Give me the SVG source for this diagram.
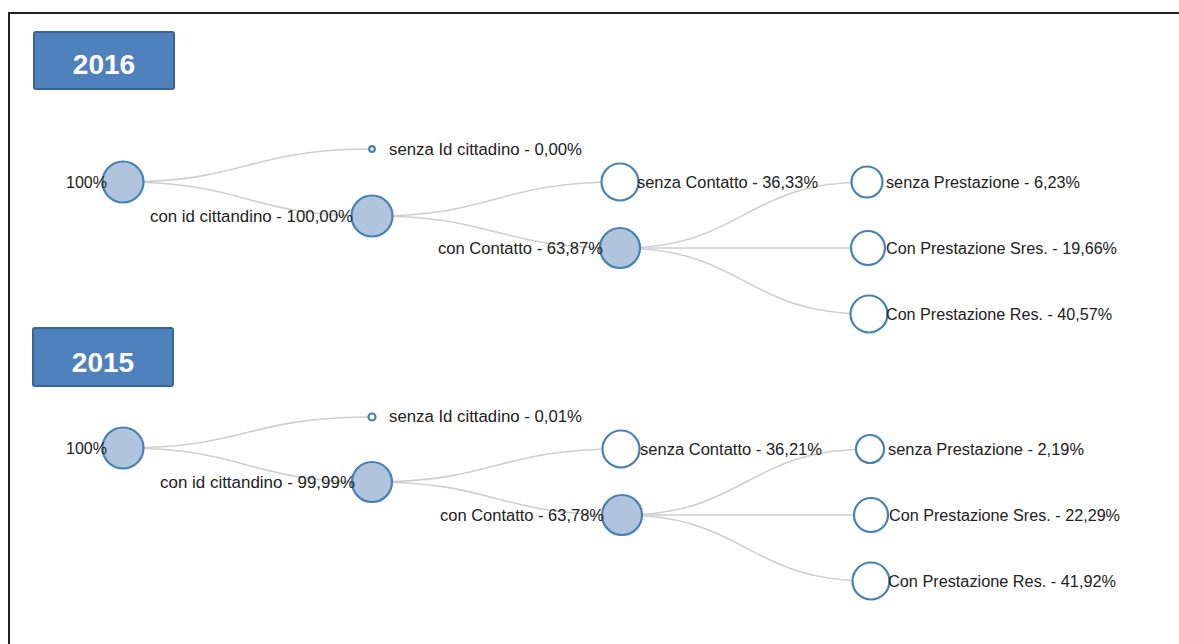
<svg xmlns="http://www.w3.org/2000/svg" width="1179" height="644" viewBox="0 0 1179 644">
<style>
.link{fill:none;stroke:#cfcfcf;stroke-width:1.6}
.nf{fill:#b0c4de;stroke:#4682b4;stroke-width:2.2}
.ne{fill:#ffffff;stroke:#4682b4;stroke-width:2.2}
.lbl{font-family:"Liberation Sans",Arial,sans-serif;font-size:16px;fill:#222}
.yr{fill:#4f81bd;stroke:#3a6491;stroke-width:2}
.yt{font-family:"Liberation Sans",Arial,sans-serif;font-size:28px;font-weight:bold;fill:#fff;text-anchor:middle}
</style>
<rect width="1179" height="644" fill="#fff"/>
<path d="M9 644V13H1179" fill="none" stroke="#222" stroke-width="2"/>
<g id="year2016"><rect class="yr" x="34" y="32" width="140" height="57" rx="2"/><text class="yt" x="104" y="74">2016</text></g>
<g id="year2015"><rect class="yr" x="33" y="328" width="140" height="58" rx="2"/><text class="yt" x="103" y="372">2015</text></g>
<g id="connectors">
<path class="link" d="M123 182C247 182 247 149 372 149"/>
<path class="link" d="M123 182C247 182 247 216 372 216"/>
<path class="link" d="M372 216C496 216 496 182 620 182"/>
<path class="link" d="M372 216C496 216 496 248 620 248"/>
<path class="link" d="M620 248C744 248 744 182 867 182"/>
<path class="link" d="M620 248C744 248 744 248 868 248"/>
<path class="link" d="M620 248C744 248 744 314 869 314"/>
<path class="link" d="M123 448C247 448 247 417 372 417"/>
<path class="link" d="M123 448C247 448 247 482 372 482"/>
<path class="link" d="M372 482C496 482 496 449 621 449"/>
<path class="link" d="M372 482C496 482 496 515 622 515"/>
<path class="link" d="M622 515C746 515 746 449 870 449"/>
<path class="link" d="M622 515C746 515 746 515 871 515"/>
<path class="link" d="M622 515C746 515 746 581 871 581"/>
</g>
<g id="n2016-root"><circle class="nf" cx="123" cy="182" r="20.5"/><text class="lbl" x="66" y="188" textLength="41" lengthAdjust="spacingAndGlyphs">100%</text></g>
<g id="n2016-senzaId"><circle class="ne" cx="372" cy="149" r="2.8"/><text class="lbl" x="389" y="155" textLength="193" lengthAdjust="spacingAndGlyphs">senza Id cittadino - 0,00%</text></g>
<g id="n2016-conId"><circle class="nf" cx="372" cy="216" r="20.5"/><text class="lbl" x="150" y="222" textLength="203" lengthAdjust="spacingAndGlyphs">con id cittandino - 100,00%</text></g>
<g id="n2016-senzaContatto"><circle class="ne" cx="620" cy="182" r="18.5"/><text class="lbl" x="637" y="188" textLength="181" lengthAdjust="spacingAndGlyphs">senza Contatto - 36,33%</text></g>
<g id="n2016-conContatto"><circle class="nf" cx="620" cy="248" r="20"/><text class="lbl" x="438" y="254" textLength="165" lengthAdjust="spacingAndGlyphs">con Contatto - 63,87%</text></g>
<g id="n2016-senzaPrest"><circle class="ne" cx="867" cy="182" r="15.5"/><text class="lbl" x="886" y="188" textLength="194" lengthAdjust="spacingAndGlyphs">senza Prestazione - 6,23%</text></g>
<g id="n2016-sres"><circle class="ne" cx="868" cy="248" r="17"/><text class="lbl" x="886" y="254" textLength="231" lengthAdjust="spacingAndGlyphs">Con Prestazione Sres. - 19,66%</text></g>
<g id="n2016-res"><circle class="ne" cx="869" cy="314" r="18.5"/><text class="lbl" x="886" y="320" textLength="226" lengthAdjust="spacingAndGlyphs">Con Prestazione Res. - 40,57%</text></g>
<g id="n2015-root"><circle class="nf" cx="123" cy="448" r="20.5"/><text class="lbl" x="66" y="454" textLength="41" lengthAdjust="spacingAndGlyphs">100%</text></g>
<g id="n2015-senzaId"><circle class="ne" cx="372" cy="417" r="3.5"/><text class="lbl" x="389" y="422" textLength="193" lengthAdjust="spacingAndGlyphs">senza Id cittadino - 0,01%</text></g>
<g id="n2015-conId"><circle class="nf" cx="372" cy="482" r="20"/><text class="lbl" x="160" y="488" textLength="195" lengthAdjust="spacingAndGlyphs">con id cittandino - 99,99%</text></g>
<g id="n2015-senzaContatto"><circle class="ne" cx="621" cy="449" r="18.5"/><text class="lbl" x="640" y="455" textLength="182" lengthAdjust="spacingAndGlyphs">senza Contatto - 36,21%</text></g>
<g id="n2015-conContatto"><circle class="nf" cx="622" cy="515" r="20"/><text class="lbl" x="440" y="521" textLength="164" lengthAdjust="spacingAndGlyphs">con Contatto - 63,78%</text></g>
<g id="n2015-senzaPrest"><circle class="ne" cx="870" cy="449" r="14"/><text class="lbl" x="888" y="455" textLength="196" lengthAdjust="spacingAndGlyphs">senza Prestazione - 2,19%</text></g>
<g id="n2015-sres"><circle class="ne" cx="871" cy="515" r="17"/><text class="lbl" x="889" y="521" textLength="231" lengthAdjust="spacingAndGlyphs">Con Prestazione Sres. - 22,29%</text></g>
<g id="n2015-res"><circle class="ne" cx="871" cy="581" r="18.5"/><text class="lbl" x="888" y="587" textLength="228" lengthAdjust="spacingAndGlyphs">Con Prestazione Res. - 41,92%</text></g>
</svg>
